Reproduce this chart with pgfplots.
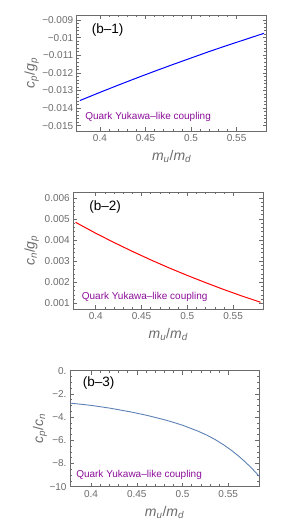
\documentclass[border=0pt]{standalone}
\usepackage{pgfplots}
\pgfplotsset{compat=1.18}
\usepackage{fontspec}
\setmainfont{Liberation Sans}
\definecolor{framegray}{gray}{0.42}
\definecolor{labelgray}{gray}{0.42}
\definecolor{mmablue}{rgb}{0.368,0.507,0.71}
\definecolor{mmapurple}{rgb}{0.55,0.05,0.6}

\pgfplotstableread{
x y
0.378 -0.01357
0.38 -0.01353
0.40 -0.01311
0.42 -0.01270
0.44 -0.01230
0.46 -0.01191
0.48 -0.01153
0.50 -0.01116
0.52 -0.01079
0.54 -0.01044
0.56 -0.01010
0.58 -0.00976
}\tabA
\pgfplotstableread{
x y
0.378 0.00484
0.38 0.00479
0.40 0.00432
0.42 0.00388
0.44 0.00346
0.46 0.00306
0.48 0.00268
0.50 0.00232
0.52 0.00198
0.54 0.00165
0.56 0.00134
0.58 0.00105
}\tabB
\pgfplotstableread{
x y
0.377 -2.79
0.38 -2.82
0.39 -2.90
0.40 -2.99
0.408 -3.08
0.42 -3.22
0.432 -3.39
0.4445 -3.57
0.46 -3.83
0.4809 -4.24
0.49 -4.45
0.50 -4.70
0.5173 -5.22
0.527 -5.57
0.5356 -5.93
0.545 -6.39
0.5538 -6.88
0.5615 -7.37
0.5684 -7.85
0.576 -8.43
0.584 -9.11
}\tabC

\tikzset{
  tagstyle/.style={anchor=west, inner sep=0pt, font=\fontsize{13.5}{15}\selectfont, text=black},
  quarkstyle/.style={anchor=west, inner sep=0pt, font=\fontsize{10}{12}\selectfont, text=mmapurple},
}

\pgfplotsset{
  mstyle/.style={
    scale only axis, width=190pt, height=116pt, anchor=south west,
    axis line style={framegray, line width=0.7pt},
    every tick/.style={framegray, line width=0.5pt},
    major tick length=4pt, minor tick length=2.2pt,
    tick align=inside,
    tick label style={font=\fontsize{10}{12}\selectfont, text=labelgray},
    label style={font=\fontsize{14}{16}\selectfont, text=labelgray},
    scaled y ticks=false, scaled x ticks=false,
    xtick={0.4,0.45,0.5,0.55},
    xticklabels={0.4,0.45,0.5,0.55},
    minor x tick num=4,
    xlabel={\textit{m}\textsubscript{\textit{u}}/\textit{m}\textsubscript{\textit{d}}},
    xlabel style={at={(axis description cs:0.5,-0.22)}, anchor=center},
  },
}

\begin{document}
\begin{tikzpicture}
\useasboundingbox (0,0) rectangle (291pt,522pt);

\begin{axis}[mstyle, at={(76.7pt,391pt)},
  xmin=0.3745, xmax=0.583, ymin=-0.0153, ymax=-0.00872,
  ytick={-0.015,-0.014,-0.013,-0.012,-0.011,-0.01,-0.009},
  yticklabels={−0.015,−0.014,−0.013,−0.012,−0.011,−0.01,−0.009},
  minor y tick num=4,
  ylabel={\textit{c}\textsubscript{\textit{p}}/\textit{g}\textsubscript{\textit{p}}},
  ylabel style={at={(axis description cs:-0.237,0.5)}, anchor=center},
]
\addplot[blue, line width=1pt, no marks] table {\tabA};
\node[tagstyle] at (rel axis cs:0.079,0.871) {(b–1)};
\node[quarkstyle] at (rel axis cs:0.044,0.118) {Quark Yukawa–like coupling};
\end{axis}

\begin{axis}[mstyle, at={(73.3pt,213pt)}, height=116.7pt,
  xmin=0.3755, xmax=0.5830, ymin=0.00073, ymax=0.00626,
  ytick={0.001,0.002,0.003,0.004,0.005,0.006},
  yticklabels={0.001,0.002,0.003,0.004,0.005,0.006},
  minor y tick num=4,
  ylabel={\textit{c}\textsubscript{\textit{n}}/\textit{g}\textsubscript{\textit{p}}},
  ylabel style={at={(axis description cs:-0.219,0.5)}, anchor=center},
]
\addplot[red, line width=1pt, no marks] table {\tabB};
\node[tagstyle] at (rel axis cs:0.084,0.871) {(b–2)};
\node[quarkstyle] at (rel axis cs:0.044,0.1) {Quark Yukawa–like coupling};
\end{axis}

\begin{axis}[mstyle, at={(70pt,35.3pt)}, width=189.3pt,
  xmin=0.377, xmax=0.584, ymin=-10, ymax=0,
  ytick={-10,-8,-6,-4,-2,0},
  yticklabels={−10,−8.,−6.,−4.,−2.,0.},
  minor y tick num=3,
  ylabel={\textit{c}\textsubscript{\textit{p}}/\textit{c}\textsubscript{\textit{n}}},
  ylabel style={at={(axis description cs:-0.158,0.5)}, anchor=center},
]
\addplot[mmablue, line width=0.9pt, no marks] table {\tabC};
\node[tagstyle] at (rel axis cs:0.067,0.89) {(b–3)};
\node[quarkstyle] at (rel axis cs:0.032,0.1) {Quark Yukawa–like coupling};
\end{axis}
\end{tikzpicture}
\end{document}
